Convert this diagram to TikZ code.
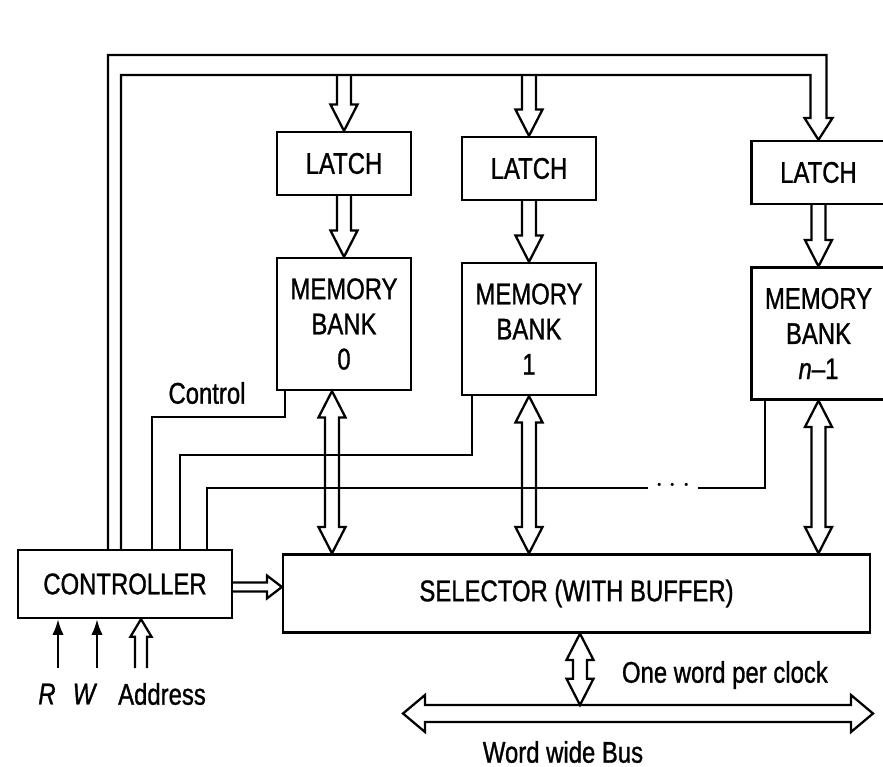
\documentclass[tikz,border=0pt]{standalone}
\usepackage{fontspec}
\setmainfont{Liberation Sans}[FakeStretch=0.8, FakeBold=1]
\usetikzlibrary{arrows.meta,calc}

% hollow (bus) arrows drawn as outlines
\tikzset{
  shaft/.store in=\bshaft, headw/.store in=\bheadw, headl/.store in=\bheadl,
  shaft=4pt, headw=7.7pt, headl=15pt,
  vhead/.style={to path={let \p1=(\tikztostart), \p2=(\tikztotarget), \n1={sign(\y2-\y1)} in
    ({\x1-\bshaft},\y1) -- ({\x1-\bshaft},{\y2-(\n1)*\bheadl}) -- ({\x1-\bheadw},{\y2-(\n1)*\bheadl})
    -- (\x1,\y2) -- ({\x1+\bheadw},{\y2-(\n1)*\bheadl}) -- ({\x1+\bshaft},{\y2-(\n1)*\bheadl}) -- ({\x1+\bshaft},\y1)}},
  vboth/.style={to path={let \p1=(\tikztostart), \p2=(\tikztotarget), \n1={sign(\y2-\y1)} in
    (\x1,\y1) -- ({\x1+\bheadw},{\y1+(\n1)*\bheadl}) -- ({\x1+\bshaft},{\y1+(\n1)*\bheadl})
    -- ({\x1+\bshaft},{\y2-(\n1)*\bheadl}) -- ({\x1+\bheadw},{\y2-(\n1)*\bheadl}) -- (\x1,\y2)
    -- ({\x1-\bheadw},{\y2-(\n1)*\bheadl}) -- ({\x1-\bshaft},{\y2-(\n1)*\bheadl})
    -- ({\x1-\bshaft},{\y1+(\n1)*\bheadl}) -- ({\x1-\bheadw},{\y1+(\n1)*\bheadl}) -- cycle}},
  hhead/.style={to path={let \p1=(\tikztostart), \p2=(\tikztotarget), \n1={sign(\x2-\x1)} in
    (\x1,{\y1+\bshaft}) -- ({\x2-(\n1)*\bheadl},{\y1+\bshaft}) -- ({\x2-(\n1)*\bheadl},{\y1+\bheadw})
    -- (\x2,\y1) -- ({\x2-(\n1)*\bheadl},{\y1-\bheadw}) -- ({\x2-(\n1)*\bheadl},{\y1-\bshaft}) -- (\x1,{\y1-\bshaft})}},
  hboth/.style={to path={let \p1=(\tikztostart), \p2=(\tikztotarget), \n1={sign(\x2-\x1)} in
    (\x1,\y1) -- ({\x1+(\n1)*\bheadl},{\y1+\bheadw}) -- ({\x1+(\n1)*\bheadl},{\y1+\bshaft})
    -- ({\x2-(\n1)*\bheadl},{\y1+\bshaft}) -- ({\x2-(\n1)*\bheadl},{\y1+\bheadw}) -- (\x2,\y1)
    -- ({\x2-(\n1)*\bheadl},{\y1-\bheadw}) -- ({\x2-(\n1)*\bheadl},{\y1-\bshaft})
    -- ({\x1+(\n1)*\bheadl},{\y1-\bshaft}) -- ({\x1+(\n1)*\bheadl},{\y1-\bheadw}) -- cycle}},
  blk/.style={draw, minimum width=2.68cm, align=center, inner sep=0pt},
}

\begin{document}
\begin{tikzpicture}[x=0.02cm, y=-0.02cm, line width=1.3pt, font=\fontsize{17pt}{20pt}\selectfont]
\useasboundingbox (0,0) rectangle (883,767);
\clip (0,0) rectangle (883,767);

% blocks
\node[blk, minimum height=1.26cm] (latchA) at (344,163.5) {LATCH};
\node[blk, minimum height=1.26cm] (latchB) at (529,168.5) {LATCH};
\node[blk, minimum height=1.26cm] (latchC) at (818.5,172.5) {LATCH};
\node[blk, minimum height=2.64cm] (bankA) at (344,324) {MEMORY\\BANK\\0};
\node[blk, minimum height=2.64cm] (bankB) at (529,329) {MEMORY\\BANK\\1};
\node[blk, minimum height=2.64cm] (bankC) at (818.5,333.5) {MEMORY\\BANK\\\textit{n}--1};
\node[blk, minimum width=4.28cm, minimum height=1.36cm] (ctrl) at (125,584) {CONTROLLER};
\node[blk, minimum width=11.74cm, minimum height=1.56cm] (sel) at (576.5,593.5) {SELECTOR (WITH BUFFER)};

% labels
\node (ctlL) at (207,393) {Control};
\node (rL) at (47,694) {\textit{R}};
\node (wL) at (85,694) {\textit{W}};
\node (adrL) at (162,694) {Address};
\node[anchor=west] (clkL) at (615,675) {One word per clock};
\node (busL) at (563,752) {Word wide Bus};
\node (dots) at (673,486) {$\cdots$};

% top bus from the controller
\coordinate (busin) at (0,75);
\draw (ctrl.north -| 108,0) |- (826.5,55) -- (826.5,118) -- (832.5,118) -- (latchC.north)
  -- (804.5,118) -- (810.5,118) -- (810.5,75) -| (ctrl.north -| 121,0);
\draw (latchA.north |- busin) to[vhead] (latchA.north);
\draw (latchB.north |- busin) to[vhead] (latchB.north);
\draw (latchA.south) to[vhead] (bankA.north);
\draw (latchB.south) to[vhead] (bankB.north);
\draw (latchC.south) to[vhead] (bankC.north);

% control lines
\draw (bankA.south -| 285,0) |- (152,417) -- (ctrl.north -| 152,0);
\draw (bankB.south -| 472,0) |- (180,455) -- (ctrl.north -| 180,0);
\draw (bankC.south -| 765,0) |- (dots.east |- 0,488);
\draw (dots.west |- 0,488) -| (ctrl.north -| 207,0);

% banks to selector
\draw (bankA.south -| 332,0) to[vboth] (sel.north -| 332,0);
\draw (bankB.south) to[vboth] (sel.north -| bankB.south);
\draw (bankC.south) to[vboth] (sel.north -| bankC.south);
\draw[shaft=2.6pt, headw=6.5pt, headl=8.5pt] (ctrl.east |- 0,587) to[hhead] (sel.west |- 0,587);

% inputs
\coordinate (rIn) at (58,668);
\coordinate (wIn) at (97,668);
\coordinate (aIn) at (141,668);
\draw[-{Latex[length=9pt,width=6.5pt]}] (rIn) -- (ctrl.south -| rIn);
\draw[-{Latex[length=9pt,width=6.5pt]}] (wIn) -- (ctrl.south -| wIn);
\draw[shaft=3.4pt, headw=6pt, headl=10pt] (aIn) to[vhead] (ctrl.south -| aIn);

% word wide bus
\coordinate (busW) at (403,713.5);
\coordinate (busE) at (873,713.5);
\coordinate (busTap) at (580,705);
\draw (sel.south -| busTap) to[vboth] (busTap);
\draw[shaft=4.8pt, headw=10.5pt, headl=12.5pt] (busW) to[hboth] (busE);
\end{tikzpicture}
\end{document}
